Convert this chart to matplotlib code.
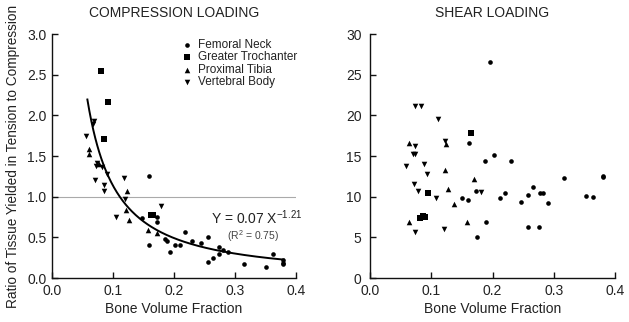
import matplotlib
matplotlib.use("Agg")
import matplotlib.pyplot as plt
import numpy as np

plt.rcParams['font.family'] = ['Liberation Sans', 'DejaVu Sans']

# ---- Compression loading data (bone volume fraction, ratio) ----
comp_fn_x = [0.1585, 0.148, 0.1716, 0.1716, 0.2186, 0.1847, 0.1885, 0.229, 0.2437,
             0.256, 0.1596, 0.202, 0.21, 0.193, 0.255, 0.264, 0.273, 0.274, 0.281,
             0.289, 0.3148, 0.351, 0.362, 0.378, 0.378, 0.378]
comp_fn_y = [1.25, 0.74, 0.75, 0.69, 0.56, 0.48, 0.45, 0.45, 0.43,
             0.50, 0.40, 0.40, 0.40, 0.32, 0.20, 0.25, 0.29, 0.385, 0.345,
             0.316, 0.168, 0.14, 0.30, 0.22, 0.19, 0.17]
comp_gt_x = [0.080, 0.0918, 0.0858, 0.162, 0.165]
comp_gt_y = [2.55, 2.16, 1.71, 0.77, 0.77]
comp_pt_x = [0.061, 0.060, 0.077, 0.1224, 0.121, 0.126, 0.157, 0.172]
comp_pt_y = [1.58, 1.53, 1.40, 1.07, 0.84, 0.71, 0.59, 0.55]
comp_vb_x = [0.069, 0.0667, 0.056, 0.073, 0.0716, 0.0815, 0.090, 0.1186, 0.0705,
             0.0847, 0.0858, 0.120, 0.179, 0.105]
comp_vb_y = [1.93, 1.89, 1.74, 1.42, 1.38, 1.36, 1.28, 1.23, 1.20,
             1.14, 1.07, 0.97, 0.89, 0.75]

# ---- Shear loading data ----
shear_fn_x = [0.1956, 0.162, 0.2027, 0.1885, 0.231, 0.317, 0.380, 0.380, 0.266,
              0.173, 0.220, 0.2776, 0.283, 0.258, 0.353, 0.364, 0.150, 0.160,
              0.212, 0.246, 0.291, 0.190, 0.2585, 0.2765, 0.174]
shear_fn_y = [26.5, 16.6, 15.1, 14.35, 14.35, 12.35, 12.4, 12.55, 11.2,
              10.75, 10.4, 10.4, 10.4, 10.2, 10.05, 9.96, 9.84, 9.55,
              9.88, 9.35, 9.2, 6.9, 6.3, 6.3, 5.1]
shear_gt_x = [0.165, 0.094, 0.081, 0.086, 0.089]
shear_gt_y = [17.8, 10.45, 7.4, 7.6, 7.5]
shear_pt_x = [0.124, 0.064, 0.123, 0.170, 0.128, 0.137, 0.063, 0.159]
shear_pt_y = [16.5, 16.6, 13.3, 12.2, 10.95, 9.1, 6.9, 6.85]
shear_vb_x = [0.0738, 0.0825, 0.111, 0.122, 0.073, 0.070, 0.074, 0.058, 0.088,
              0.0924, 0.072, 0.0776, 0.182, 0.107, 0.073, 0.121]
shear_vb_y = [21.2, 21.2, 19.5, 16.8, 16.2, 15.2, 15.2, 13.8, 14.0,
              12.75, 11.5, 10.7, 10.6, 9.84, 5.7, 6.0]

legend_labels = ['Femoral Neck', 'Greater Trochanter', 'Proximal Tibia', 'Vertebral Body']
fit_a, fit_b = 0.07, -1.21
fit_range = (0.058, 0.38)

W, H = 629, 322
fig = plt.figure(figsize=(W / 100, H / 100), dpi=100)
ax1 = fig.add_axes([52 / W, 1 - 278 / H, 244 / W, 244 / H])
ax2 = fig.add_axes([370 / W, 1 - 278 / H, 245 / W, 244 / H])

txt = '#222222'
markers = ['o', 's', '^', 'v']
sizes = [11, 14, 16, 16]


def style(ax, ymax, yticks, yfmt, ypad):
    ax.set_xlim(0, 0.4)
    ax.set_ylim(0, ymax)
    for s in ['top', 'right']:
        ax.spines[s].set_visible(False)
    for s in ['left', 'bottom']:
        ax.spines[s].set_linewidth(1.0)
        ax.spines[s].set_color('#111111')
    ax.set_xticks([0, 0.1, 0.2, 0.3, 0.4])
    ax.set_xticklabels(['0.0', '0.1', '0.2', '0.3', '0.4'])
    ax.set_yticks(yticks)
    ax.set_yticklabels([yfmt.format(v) for v in yticks])
    ax.tick_params(direction='in', length=4, width=1, labelsize=10, colors='#111111',
                   labelcolor=txt, pad=4)
    ax.tick_params(axis='y', pad=ypad)
    ax.set_xlabel('Bone Volume Fraction', fontsize=10, color=txt, labelpad=3)
    ax.patch.set_alpha(0)


style(ax1, 3.0, [0, 0.5, 1.0, 1.5, 2.0, 2.5, 3.0], '{:.1f}', 4)
style(ax2, 30, [0, 5, 10, 15, 20, 25, 30], '{:.0f}', 6)

ax1.axhline(1.0, color='#aaaaaa', lw=0.8, zorder=1)

comp_sets = [(comp_fn_x, comp_fn_y), (comp_gt_x, comp_gt_y), (comp_pt_x, comp_pt_y), (comp_vb_x, comp_vb_y)]
shear_sets = [(shear_fn_x, shear_fn_y), (shear_gt_x, shear_gt_y), (shear_pt_x, shear_pt_y), (shear_vb_x, shear_vb_y)]

handles = []
for (x, y), m, s, lab in zip(comp_sets, markers, sizes, legend_labels):
    h = ax1.scatter(x, y, marker=m, s=s, color='black', linewidths=0, zorder=3, label=lab)
    handles.append(h)
for (x, y), m, s in zip(shear_sets, markers, sizes):
    ax2.scatter(x, y, marker=m, s=s, color='black', linewidths=0, zorder=3)

xf = np.linspace(fit_range[0], fit_range[1], 200)
ax1.plot(xf, fit_a * xf ** fit_b, color='black', lw=1.4, zorder=2)

ax1.text(0.335, 0.745, r'Y = 0.07 X$^{\mathregular{-1.21}}$', fontsize=10, color=txt, ha='center', va='center')
ax1.text(0.330, 0.52, r'(R$^{\mathregular{2}}$ = 0.75)', fontsize=7.5, color='#444444', ha='center', va='center')

leg = ax1.legend(handles=handles, loc='upper left', bbox_to_anchor=(0.51, 1.0), frameon=False,
                 fontsize=8.5, handletextpad=0.4, labelspacing=0.05, borderaxespad=0,
                 handlelength=1.0, markerscale=1.0)
for t in leg.get_texts():
    t.set_color(txt)

ax1.set_title('COMPRESSION LOADING', fontsize=10, color=txt, pad=12)
ax2.set_title('SHEAR LOADING', fontsize=10, color=txt, pad=12)
ax1.set_ylabel('Ratio of Tissue Yielded in Tension to Compression', fontsize=9.8, color=txt, labelpad=5)

fig.savefig('out.png', dpi=100)
